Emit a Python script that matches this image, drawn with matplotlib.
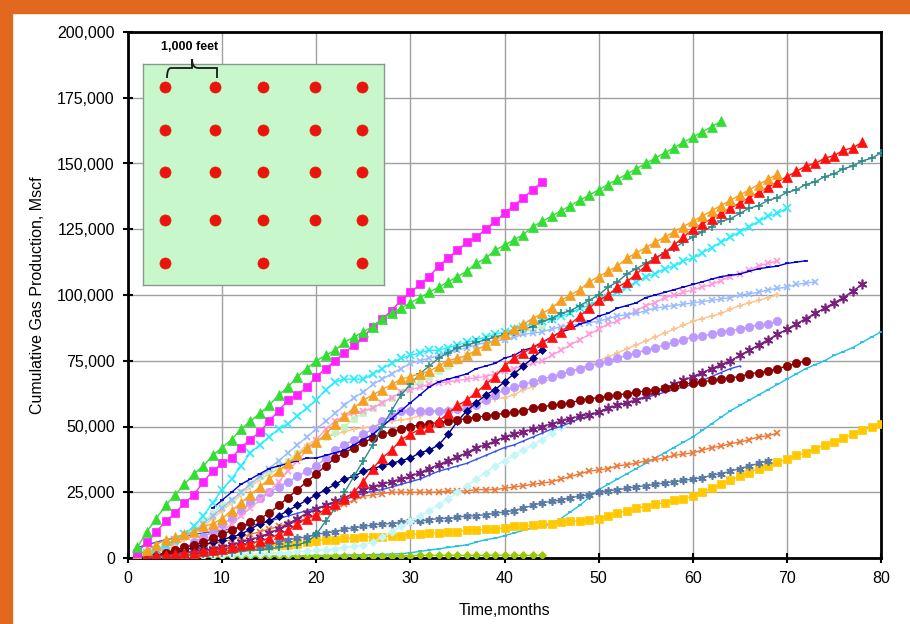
import numpy as np
import matplotlib
matplotlib.use("Agg")
from matplotlib import pyplot as plt
from matplotlib.patches import Rectangle, PathPatch
from matplotlib.path import Path
from matplotlib.ticker import FuncFormatter, MultipleLocator

plt.rcParams['font.family'] = ['Liberation Sans', 'DejaVu Sans']

# cumulative production per well, thousands of Mscf, one value per month
green_tri = [4, 10, 15, 20, 24, 28, 32, 35, 39, 42, 45, 49, 52, 55, 58, 62, 65, 69, 72, 75,
             77, 79, 82, 84, 86, 88, 91, 93, 95, 97, 99, 101, 103, 105, 107, 109, 112, 114, 117, 119,
             121, 123, 126, 128, 130, 132, 134, 136, 138, 140, 142, 144, 146, 148, 150, 152, 154, 156, 158, 160,
             162, 164, 166]
magenta_sq = [2, 6, 10, 14, 17, 21, 24, 29, 33, 36, 38, 42, 45, 48, 52, 56, 60, 62, 65, 69,
              72, 75, 78, 81, 84, 88, 91, 94, 98, 101, 104, 107, 111, 114, 117, 120, 122, 125, 128, 131,
              134, 137, 140, 143]
orange_tri = [1, 3, 5, 7, 8, 9, 10, 12, 13, 15, 18, 21, 24, 27, 30, 33, 36, 39, 42, 44,
              47, 51, 54, 57, 60, 62, 64, 66, 68, 69, 70, 71, 73, 75, 76, 77, 79, 81, 83, 85,
              87, 89, 91, 93, 95, 98, 100, 102, 105, 107, 109, 111, 114, 116, 118, 120, 122, 124, 126, 128,
              130, 132, 134, 136, 138, 140, 142, 144, 146]
red_tri = [0, 0.5, 1, 1, 1.5, 2, 2, 2.5, 3, 3.5, 4, 5, 5.5, 6.5, 7.5, 9, 10.5, 13, 15, 16.5,
           18.5, 20.5, 22.5, 25, 29, 34, 38, 41, 45, 47, 49, 50, 52, 55, 58, 60, 63, 66, 69, 73,
           76, 78, 80, 82, 84, 86, 89, 92, 95, 98, 100, 103, 105, 108, 111, 114, 116, 119, 122, 125,
           127, 129, 131, 133, 135, 137, 139, 141, 143, 145, 147, 149, 150, 152, 153, 155, 156, 158]
teal_plus = [0, 0, 0.5, 0.5, 1, 1, 1, 1.5, 1.5, 2, 2, 2.5, 3, 3, 3.5, 4, 4.5, 5, 6, 9,
             14, 19, 25, 31, 37, 43, 50, 56, 62, 66, 70, 73, 76, 78, 80, 81, 82, 83, 84, 85,
             86, 87, 88, 90, 91, 93, 94, 96, 98, 100, 103, 105, 108, 110, 112, 114, 116, 118, 120, 122,
             124, 126, 128, 129, 131, 133, 134, 136, 137, 139, 140, 142, 143, 145, 146, 148, 149, 151, 152, 154]
cyan_x = [1, 2, 3, 5, 7, 9, 12, 16, 21, 26, 30, 35, 40, 43, 46, 49, 51, 54, 57, 60,
          64, 67, 68, 68, 68, 70, 72, 74, 76, 77, 78, 79, 79, 80, 81, 82, 83, 84, 85, 86,
          87, 88, 89, 90, 91, 92, 93, 95, 96, 98, 99, 101, 103, 105, 107, 108, 110, 111, 113, 114,
          116, 118, 120, 122, 124, 126, 128, 130, 131, 133]
ltblue_x = [0, 1, 2, 4, 6, 8, 10, 13, 16, 19, 22, 25, 28, 31, 34, 37, 40, 43, 46, 49,
            52, 55, 58, 61, 63, 66, 68, 70, 72, 74, 75, 76, 77, 78, 79, 80, 81, 82, 82.5, 83,
            84, 85, 85.5, 86, 87, 88, 88.5, 89, 89.5, 90, 91, 92, 92.5, 93, 94, 95, 95.5, 96, 96.5, 97,
            97.5, 98, 98.5, 99, 100, 100.5, 101, 102, 102.5, 103, 104, 104.5, 105]
blue_line = [19, 22, 25, 28, 30, 32, 34, 35, 36, 37, 38, 38, 39, 40, 41, 43, 45, 47, 50, 53,
             56, 59, 62, 65, 67, 68, 69, 70, 72, 73, 74, 76, 77, 79, 80, 82, 84, 86, 87, 89,
             90, 92, 93, 95, 96, 97, 99, 100, 101, 102, 103, 104, 105, 106, 107, 107.5, 108, 109, 110, 110.5,
             111, 112, 112.5, 113]
pink_x = [0, 0.5, 1, 2, 3, 4, 5, 7, 8, 10, 13, 16, 19, 22, 25, 29, 33, 37, 41, 45,
          49, 52, 54, 55, 56, 57, 59, 61, 63, 64, 65, 66, 66.5, 67, 67.5, 68, 68.5, 69, 70, 71,
          72, 73, 74, 75, 77, 79, 81, 83, 85, 87, 89, 90, 92, 94, 96, 97, 99, 100, 101, 102,
          103, 104, 105.5, 107, 108, 109.5, 111, 112, 113]
palegreen_sq = [1, 2, 3, 5, 7, 9, 11, 14, 17, 20, 22, 25, 28, 31, 33, 35, 37, 40, 42, 44,
                46, 48, 50, 53, 55, 57, 59, 61, 63, 65, 67, 69, 71, 73, 75, 77, 79, 81, 83, 84,
                85, 86, 87, 88]
lilac_circ = [0, 0.5, 1, 2, 3, 4, 6, 8, 10, 13, 15, 18, 21, 23, 25, 27, 29, 31, 33, 35,
              38, 41, 43, 45, 47, 49, 52, 54, 56, 56, 56, 56, 56, 56, 56.5, 57, 58, 60, 62, 64,
              65, 66, 67, 68, 69, 70, 71, 72, 73, 74, 75, 76, 77, 78, 79, 80, 81, 82, 83, 84,
              84.5, 85, 86, 86.5, 87, 88, 88.5, 89, 90]
peach_plus = [0, 1, 2, 3, 5, 7, 9, 12, 15, 18, 21, 24, 27, 30, 32, 34, 37, 40, 43, 45,
              46, 47, 48, 49, 49.5, 50, 51, 52, 52.5, 53, 54, 55, 56, 56.5, 57, 58, 59, 60, 60.5, 61,
              62, 64, 65, 67, 68, 69.5, 71, 72, 73.5, 75, 76.5, 78, 79.5, 81, 82.5, 84, 85.5, 87, 88.5, 90,
              91, 92, 93, 94.5, 96, 97, 98, 99, 100]
maroon_circ = [0, 0.5, 1, 2, 3, 4, 5, 6, 7.5, 9, 10.5, 12, 13.5, 15, 17, 20, 23, 26, 29, 32,
               35, 38, 40, 42, 44, 45.5, 47, 48, 49, 50, 50.5, 51, 51.5, 52, 52.5, 53, 53.5, 54, 54.5, 55,
               55.5, 56, 57, 57.5, 58, 58.5, 59, 60, 60.5, 61, 61.5, 62, 62.5, 63, 63.5, 64, 64.5, 65, 66, 66.5,
               67, 67.5, 68, 68.5, 69, 70, 70.5, 71, 72, 73, 74, 75]
navy_dia = [0, 0.5, 1, 1.5, 2, 3, 4, 5, 6, 7, 8, 9, 11, 13, 14, 16, 18, 20, 22, 24,
            26, 28, 30, 31, 33, 34, 35, 36, 37, 38, 40, 41, 43, 47, 52, 56, 59, 62, 64, 67,
            70, 73, 76, 79]
purple_ast = [0, 0, 0.5, 1, 1.5, 2, 2.5, 3, 3.5, 4, 5, 6, 7, 8, 9.5, 11, 13, 15, 17, 18.5,
              20, 21.5, 23, 24.5, 26, 27, 28, 29, 30, 31, 32.5, 34, 35.5, 37, 38.5, 40, 42, 43, 44.5, 46,
              47, 48, 49, 50, 51, 52, 53, 54, 54.5, 55.5, 57, 58, 59, 60, 61.5, 63, 64.5, 66, 67.5, 69,
              70.5, 72, 73.5, 75, 77, 79, 81, 83, 85, 87, 89, 91, 93, 95, 97, 99, 101.5, 104]
royal_line = [4, 5, 6, 7, 7.5, 8, 9, 9.5, 10, 10.5, 11, 12, 12.5, 13, 14, 15, 16, 17, 18, 19,
              20, 21, 22, 23.5, 24.5, 25.5, 26, 27, 28, 29, 30, 31.5, 33, 34, 35, 36, 37.5, 39, 40.5, 42,
              43, 44.5, 46, 47.5, 49, 50, 51.5, 53, 54, 55.5, 57, 58, 59, 60, 61, 62, 63, 64, 65, 66,
              67.5, 69, 70.5, 72, 73]
palecyan_dia = [0, 0, 0, 0, 0.5, 0.5, 0.5, 1, 1, 1, 1, 1.5, 1.5, 1.5, 2, 2, 2, 2.5, 2.5, 3,
                3, 3.5, 4, 4.5, 5, 6, 8, 10, 12, 14, 16, 18, 20, 22.5, 25, 27.5, 30, 32.5, 35, 37,
                39, 41, 43, 45, 47.5, 50]
orange_x = [0, 0.5, 1, 2, 3, 3.5, 4, 5, 5.5, 6, 7, 8, 9, 10, 11, 12, 13, 14, 15, 16,
            17.5, 19, 20.5, 22, 23.5, 24, 24.5, 25, 25, 25, 25, 25, 25, 25.5, 25.5, 25.5, 26, 26, 26, 26.5,
            27, 27.5, 28, 28.5, 29, 30, 31, 32, 33, 33.5, 34, 35, 35.5, 36, 37, 37.5, 38, 39, 39.5, 40,
            41, 42, 42.5, 43.5, 44, 45, 46, 46.5, 47.5]
slate_ast = [0, 0, 0.5, 0.5, 1, 1, 1.5, 2, 2, 2.5, 3, 3.5, 4, 4.5, 5, 6, 7, 7.5, 8, 9,
             9.5, 10, 11, 11.5, 12, 12.5, 13, 13, 13.5, 14, 14, 14.5, 15, 15, 15.5, 16, 16, 16.5, 17, 17.5,
             18, 19, 20, 21, 21.5, 22, 23, 23.5, 24, 25, 25.5, 26, 26.5, 27, 27.5, 28, 28.5, 29, 29.5, 30,
             30.5, 31.5, 32, 33, 34, 35, 36, 37]
yellow_sq = [0.5, 1, 1.5, 2, 2, 2.5, 2.5, 3, 3, 3.5, 3.5, 4, 4, 4.5, 4.5, 5, 5, 5.5, 6, 6.5,
             7, 7, 7.5, 7.5, 8, 8, 8, 8.5, 8.5, 9, 9, 9.5, 9.5, 10, 10, 10.5, 10.5, 11, 11, 11.5,
             12, 12, 12.5, 13, 13, 13.5, 14, 14, 14.5, 15, 16, 17, 18, 19, 19.5, 20.5, 21, 22, 22.5, 23.5,
             25, 26.5, 28, 29.5, 31, 32.5, 34, 35, 36.5, 37.5, 39, 40, 41.5, 43, 44, 45.5, 47, 48.5, 50, 51]
sky_line = [0, 0, 0, 0, 0.2, 0.2, 0.3, 0.3, 0.4, 0.5, 0.5, 0.5, 0.6, 0.6, 0.7, 0.7, 0.8, 0.8, 0.9, 1,
            1, 1, 1.1, 1.2, 1.2, 1.3, 1.4, 1.5, 1.6, 2, 2.5, 3, 3.5, 4, 4.5, 5, 6, 7, 7.5, 8.5,
            9.5, 10.5, 11.5, 12, 13, 15, 17.5, 20, 23, 26, 28, 30, 32, 34, 36, 38, 40, 42, 44, 46,
            48.5, 51, 53.5, 56, 58, 60, 62, 64, 66, 68, 70, 72, 73.5, 75, 77, 78.5, 80, 82, 84, 86]
olive_dia = [0.3, 0.4, 0.4, 0.5, 0.5, 0.5, 0.6, 0.6, 0.6, 0.6, 0.7, 0.7, 0.7, 0.7, 0.7, 0.8, 0.8, 0.8, 0.8, 0.8,
             0.8, 0.8, 0.9, 0.9, 0.9, 0.9, 0.9, 0.9, 0.9, 0.9, 1, 1, 1, 1, 1, 1, 1, 1, 1, 1,
             1, 1, 1, 1]

# (values, first month, color, marker, markersize, zorder)
series = [
    (sky_line, 1, '#1FBFEA', '_', 3, 3),
    (olive_dia, 1, '#99CC00', 'D', 4, 3),
    (yellow_sq, 1, '#FFC800', 's', 5.5, 3),
    (slate_ast, 1, '#5A7AA6', (6, 2, 0), 6, 3),
    (orange_x, 1, '#EE7733', 'x', 5, 3),
    (palecyan_dia, 1, '#C4F6F8', 'D', 4, 3),
    (royal_line, 1, '#3355EE', '.', 2, 3),
    (purple_ast, 1, '#7A1F7E', (6, 2, 0), 7, 3),
    (navy_dia, 1, '#000080', 'D', 4, 4),
    (maroon_circ, 1, '#8B0000', 'o', 6, 4),
    (peach_plus, 1, '#FAC48E', '+', 5, 3),
    (lilac_circ, 1, '#BB99FF', 'o', 6, 3),
    (palegreen_sq, 1, '#C6F2C0', 's', 5, 3),
    (pink_x, 1, '#FF99DD', 'x', 5, 3),
    (blue_line, 9, '#0000CC', '_', 3, 4),
    (ltblue_x, 1, '#99BBFF', 'x', 5, 3),
    (cyan_x, 1, '#22EEFF', 'x', 6, 4),
    (teal_plus, 1, '#2E8B8B', '+', 6, 4),
    (red_tri, 1, '#FF1010', '^', 6.5, 5),
    (orange_tri, 1, '#F5A020', '^', 6.5, 5),
    (magenta_sq, 1, '#FF22FF', 's', 5.5, 5),
    (green_tri, 1, '#33DD33', '^', 6.5, 5),
]

fig = plt.figure(figsize=(9.10, 6.24), dpi=100)
fig.patches.append(Rectangle((0, 1 - 13 / 624), 1, 13 / 624, transform=fig.transFigure,
                             color='#E2681F', zorder=0))
fig.patches.append(Rectangle((0, 0), 12 / 910, 1, transform=fig.transFigure,
                             color='#E2681F', zorder=0))

ax = fig.add_axes([128 / 910, 1 - 558 / 624, (881 - 128) / 910, (558 - 32) / 624])

for vals, start, col, mk, ms, z in series:
    months = np.arange(start, start + len(vals))
    ax.plot(months, np.array(vals) * 1000, color=col, marker=mk, markersize=ms,
            linewidth=1, markeredgewidth=1.2 if mk in ('x', '+', '_') or isinstance(mk, tuple) else 0.5,
            zorder=z)

ax.set_xlim(0, 80)
ax.set_ylim(0, 200000)
ax.xaxis.set_major_locator(MultipleLocator(10))
ax.yaxis.set_major_locator(MultipleLocator(25000))
ax.yaxis.set_major_formatter(FuncFormatter(lambda v, p: f'{int(v):,}'))
ax.grid(True, color='#A0A0A0', linewidth=1)
ax.set_axisbelow(True)
for s in ax.spines.values():
    s.set_linewidth(2)
ax.tick_params(direction='inout', length=7, width=1.5, labelsize=11.5, pad=6)
ax.set_xlabel('Time,months', fontsize=11.5, labelpad=12)
ax.set_ylabel('Cumulative Gas Production, Mscf', fontsize=11.5, labelpad=9)

# well layout inset
ins = fig.add_axes([143 / 910, 1 - 285 / 624, (384 - 143) / 910, (285 - 64) / 624])
ins.set_facecolor('#C9F7CC')
for s in ins.spines.values():
    s.set_color('#8A9A8A')
    s.set_linewidth(1)
ins.set_xticks([])
ins.set_yticks([])
ins.set_xlim(0, 241)
ins.set_ylim(221, 0)
well_cols = [22, 72, 120, 172, 219]
well_rows = [23, 66, 108, 156, 199]
for r, yy in enumerate(well_rows):
    for c, xx in enumerate(well_cols):
        if r == 4 and c in (1, 3):
            continue
        ins.plot(xx, yy, 'o', color='#EE1111', markersize=8, markeredgecolor='#CC3300',
                 markeredgewidth=0.5)

# brace above first two wells
bx0, bx1, btop, bmid, bbot = 167, 217, 59, 68, 78
verts = [(bx0, bbot), (bx0, bmid), (bx0 + 4, bmid), (bx0 + 8, bmid),
         ((bx0 + bx1) / 2 - 6, bmid), ((bx0 + bx1) / 2, bmid), ((bx0 + bx1) / 2, btop),
         ((bx0 + bx1) / 2, bmid), ((bx0 + bx1) / 2 + 6, bmid), (bx1 - 8, bmid),
         (bx1 - 4, bmid), (bx1, bmid), (bx1, bbot)]
verts = [(x / 910, 1 - y / 624) for x, y in verts]
codes = [Path.MOVETO, Path.CURVE3, Path.CURVE3, Path.LINETO, Path.CURVE3, Path.CURVE3,
         Path.LINETO, Path.CURVE3, Path.CURVE3, Path.LINETO, Path.CURVE3, Path.CURVE3, Path.LINETO]
fig.patches.append(PathPatch(Path(verts, codes), transform=fig.transFigure, fill=False,
                             edgecolor='#1A1A1A', linewidth=1.3, zorder=6))
fig.text(190 / 910, 1 - 47 / 624, '1,000 feet', fontsize=9, fontweight='bold',
         ha='center', va='center', zorder=6)

fig.savefig('out.png', dpi=100)
